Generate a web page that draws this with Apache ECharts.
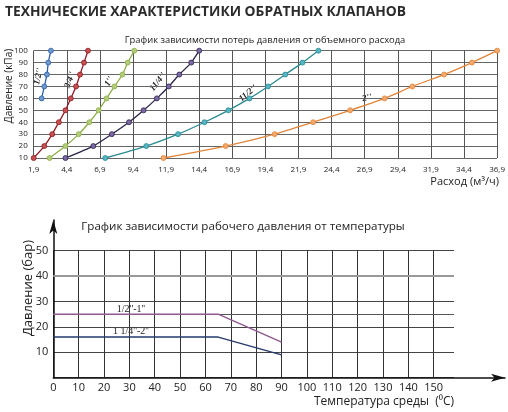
<!DOCTYPE html>
<html>
<head>
<meta charset="utf-8">
<script src="https://cdn.jsdelivr.net/npm/echarts@6/dist/echarts.min.js"></script>
<style>
    html, body { margin: 0; padding: 0; background: #fff; }
    #chart { width: 508px; height: 412px; }
</style>
</head>
<body>
<div id="chart"></div>
<script>
// Top chart: pressure loss (kPa) vs flow (m3/h)
var pressureKPa = [10, 20, 30, 40, 50, 60, 70, 80, 90, 100];
var flowHalf = [null, null, null, null, null, 2.5, 2.7, 2.9, 3.0, 3.2];
var flow34 = [1.9, 2.7, 3.3, 3.8, 4.3, 4.7, 5.1, 5.4, 5.7, 6.0];
var flow1 = [3.1, 4.3, 5.3, 6.1, 6.8, 7.4, 8.0, 8.6, 9.0, 9.5];
var flow114 = [4.3, 6.4, 7.8, 9.1, 10.2, 11.2, 12.1, 12.9, 13.8, 14.4];
var flow112 = [7.3, 10.4, 12.8, 14.8, 16.6, 18.2, 19.6, 20.9, 22.2, 23.4];
var flow2 = [11.7, 16.4, 20.1, 23.0, 25.8, 28.4, 30.5, 32.9, 35.0, 36.9];
var flowTickLabels = ['1,9', '4,4', '6,9', '9,4', '11,9', '14,4', '16,9', '19,4',
    '21,9', '24,4', '26,9', '29,4', '31,9', '34,4', '36,9'];

// Bottom chart: working pressure (bar) vs temperature
var temps = [0, 65, 90];
var pressSmall = [25, 25, 14];
var pressLarge = [16, 16, 9];

var FLOW0 = 1.9;      // first flow tick, axis is drawn relative to it
var FLOW_STEP = 2.5;

var chart = echarts.init(document.getElementById('chart'));

// build [flow, pressure] pairs, flow shifted to axis origin
var pairs = function (flows) {
    var out = [];
    flows.forEach(function (f, i) {
        if (f !== null) out.push([f - FLOW0, pressureKPa[i]]);
    });
    return out;
};

var flowSeries = function (name, flows, line, fill) {
    return {
        name: name,
        type: 'line',
        xAxisIndex: 0,
        yAxisIndex: 0,
        data: pairs(flows),
        smooth: 0.2,
        symbol: 'circle',
        symbolSize: 5,
        lineStyle: { color: line, width: 1.3 },
        itemStyle: { color: fill, borderColor: line, borderWidth: 0.8 },
        animation: false
    };
};

var tempSeries = function (name, values, color, extra) {
    var s = {
        name: name,
        type: 'line',
        xAxisIndex: 1,
        yAxisIndex: 1,
        data: temps.map(function (t, i) { return [t, values[i]]; }),
        symbol: 'none',
        lineStyle: { color: color, width: 1.4 },
        z: 5,
        animation: false
    };
    return Object.assign(s, extra || {});
};

var txt = function (text, x, y, size, opts) {
    return Object.assign({
        type: 'text',
        x: x,
        y: y,
        style: Object.assign({
            text: text,
            font: size + 'px "Open Sans", sans-serif',
            fill: '#222',
            align: 'center',
            verticalAlign: 'middle'
        }, (opts && opts.style) || {})
    }, opts && opts.rotation ? { rotation: opts.rotation } : {});
};

var deg = function (d) { return d * Math.PI / 180; };
var serif9 = 'italic bold 9px "Liberation Serif", serif';

chart.setOption({
    textStyle: { fontFamily: '"Open Sans", sans-serif' },
    animation: false,

    grid: [
        { left: 33.7, right: 7.3, top: 50.7, height: 107.3 },
        { left: 53.3, right: 54, top: 250.7, bottom: 34.3 },
        { left: 53.3, right: 3, top: 220, bottom: 34.3 }
    ],

    xAxis: [{
        // flow axis
        type: 'value',
        gridIndex: 0,
        min: 0,
        max: 35,
        interval: FLOW_STEP,
        axisLine: { show: false },
        axisTick: { show: false },
        axisLabel: {
            fontSize: 8,
            color: '#222',
            margin: 8,
            formatter: function (v) {
                return flowTickLabels[Math.round(v / FLOW_STEP)] || '';
            }
        },
        splitLine: { lineStyle: { color: '#555', width: 1 } }
    }, {
        // temperature axis
        type: 'value',
        gridIndex: 1,
        min: 0,
        max: 158,
        interval: 10,
        axisLine: { show: false },
        axisTick: { show: false },
        axisLabel: {
            fontSize: 11,
            color: '#222',
            margin: 5,
            showMaxLabel: false
        },
        splitLine: { showMaxLine: false, lineStyle: { color: '#333', width: 1 } }
    }, {
        // arrow of the temperature axis
        type: 'value',
        gridIndex: 2,
        min: 0,
        max: 1,
        axisLine: {
            lineStyle: { color: '#111', width: 1.5 },
            symbol: ['none', 'arrow'],
            symbolSize: [6, 14]
        },
        axisTick: { show: false },
        axisLabel: { show: false },
        splitLine: { show: false }
    }],

    yAxis: [{
        type: 'value',
        gridIndex: 0,
        min: 10,
        max: 100,
        interval: 10,
        axisLine: { show: false },
        axisTick: { show: false },
        axisLabel: { fontSize: 8, color: '#222', margin: 6 },
        splitLine: { lineStyle: { color: '#666', width: 1 } }
    }, {
        type: 'value',
        gridIndex: 1,
        min: 0,
        max: 50,
        interval: 10,
        axisLine: { show: false },
        axisTick: { show: false },
        axisLabel: { fontSize: 11, color: '#222', margin: 5, showMinLabel: false },
        splitLine: { lineStyle: { color: '#444', width: 1 } }
    }, {
        type: 'value',
        gridIndex: 2,
        min: 0,
        max: 1,
        axisLine: {
            lineStyle: { color: '#111', width: 1.5 },
            symbol: ['none', 'arrow'],
            symbolSize: [6, 14]
        },
        axisTick: { show: false },
        axisLabel: { show: false },
        splitLine: { show: false }
    }],

    series: [
        flowSeries('1/2"', flowHalf, '#2f62a8', '#6f97cf'),
        flowSeries('3/4"', flow34, '#8c1c24', '#c8504f'),
        flowSeries('1"', flow1, '#8fae4a', '#b3cc7a'),
        flowSeries('1 1/4"', flow114, '#2a2648', '#7d68a6'),
        flowSeries('1 1/2"', flow112, '#2b8a90', '#56b5c4'),
        flowSeries('2"', flow2, '#e0843a', '#f4a96a'),
        tempSeries('1/2"-1"', pressSmall, '#8e5a8e', {
            markLine: {
                silent: true,
                symbol: 'none',
                label: { show: false },
                data: [
                    [{ coord: [0, 25], lineStyle: { color: '#555', width: 1, type: 'solid' } }, { coord: [158, 25] }],
                    [{ coord: [0, 40], lineStyle: { color: '#999', width: 2, type: 'solid' } }, { coord: [158, 40] }]
                ]
            }
        }),
        tempSeries('1 1/4"-2"', pressLarge, '#263a6c')
    ],

    graphic: [
        txt('ТЕХНИЧЕСКИЕ ХАРАКТЕРИСТИКИ ОБРАТНЫХ КЛАПАНОВ', 5, 12, 13.8, {
            style: { font: 'bold 13.8px "Open Sans", sans-serif', align: 'left', fill: '#2b2b2b' }
        }),
        txt('График зависимости потерь давления от объемного расхода', 265, 40, 9.4),
        txt('Давление (кПа)', 9, 86, 10, { rotation: deg(90) }),
        txt('Расход (м³/ч)', 499, 182, 11, { style: { align: 'right' } }),

        // size labels on the curves
        txt("1/2''", 38.5, 76.5, 9, { rotation: deg(78), style: { font: serif9 } }),
        txt("3/4''", 70, 80, 9, { rotation: deg(70), style: { font: serif9 } }),
        txt("1''", 109, 81.5, 9, { rotation: deg(60), style: { font: serif9 } }),
        txt("11/4''", 158, 82, 9, { rotation: deg(52), style: { font: serif9 } }),
        txt("11/2''", 248, 93.5, 9, { rotation: deg(40), style: { font: serif9 } }),
        txt("2''", 367, 98, 9, { rotation: deg(12), style: { font: serif9 } }),

        txt('График зависимости рабочего давления от температуры', 243, 227, 11.6),
        txt('Давление (бар)', 28, 288, 13, { rotation: deg(90) }),
        txt('Температура среды  (⁰C)', 384, 402, 12),
        txt("1/2''-1''", 131, 309, 10, { style: { font: '10px "Liberation Serif", serif' } }),
        txt("1 1/4''-2''", 131, 331, 10, { style: { font: '10px "Liberation Serif", serif' } })
    ]
});
</script>
</body>
</html>
